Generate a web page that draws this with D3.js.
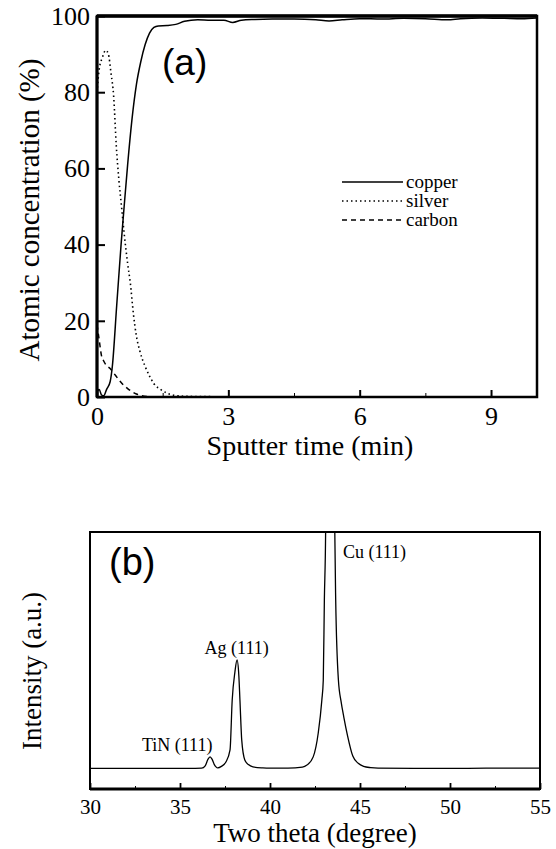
<!DOCTYPE html>
<html>
<head>
<meta charset="utf-8">
<script src="https://cdn.jsdelivr.net/npm/d3@7"></script>
<style>
  body { margin: 0; background: #fff; }
  svg { display: block; }
  svg text { font-family: "Liberation Serif", "Times New Roman", serif; }
  svg text.tag { font-family: "Liberation Sans", Arial, sans-serif; }
</style>
</head>
<body>
<div id="chart"></div>
<script>
// (a) depth profile: [sputter time (min), atomic concentration (%)]
const copper = [
  [0, 1.5], [0.05, 2], [0.1, 0.6], [0.15, 0.3], [0.22, 2], [0.3, 4], [0.35, 8],
  [0.45, 24], [0.55, 40], [0.62, 50], [0.7, 61], [0.8, 73], [0.9, 82], [1.0, 88],
  [1.1, 92.5], [1.2, 95.5], [1.3, 97], [1.4, 97.4], [1.6, 97.5], [1.8, 97.8],
  [2.0, 98.6], [2.3, 99.0], [2.6, 98.9], [2.9, 98.9], [3.1, 98.3], [3.3, 98.9],
  [3.6, 99.1], [4.0, 99.2], [4.5, 99.2], [5.0, 99.0], [5.3, 98.7], [5.6, 99.0],
  [6.0, 99.3], [6.5, 99.2], [7.0, 99.4], [7.5, 99.3], [8.0, 99.0], [8.3, 99.3],
  [8.8, 99.5], [9.3, 99.4], [9.7, 99.3], [10.05, 99.5]
];
const silver = [
  [0, 80], [0.05, 86], [0.12, 89], [0.2, 91], [0.26, 90], [0.32, 85], [0.38, 79],
  [0.44, 66], [0.5, 57], [0.56, 50], [0.62, 43], [0.7, 35], [0.76, 30], [0.83, 22],
  [0.9, 16], [0.98, 12], [1.1, 8], [1.2, 5.5], [1.3, 3.5], [1.45, 2], [1.6, 1],
  [1.8, 0.4], [2.0, 0.2], [2.5, 0.1], [3.5, 0], [10.05, 0]
];
const carbon = [
  [0, 19], [0.05, 15], [0.1, 11], [0.15, 9.5], [0.2, 8.5], [0.3, 7.5], [0.4, 6],
  [0.5, 4.5], [0.6, 3.2], [0.7, 2.2], [0.8, 1.4], [0.9, 0.8], [1.0, 0.4],
  [1.2, 0.1], [1.5, 0], [10.05, 0]
];
const legendNames = ['copper', 'silver', 'carbon'];
const timeTicks = [0, 3, 6, 9];
const timeMinorTicks = [1.5, 4.5, 7.5];
const concTicks = [0, 20, 40, 60, 80, 100];

// (b) XRD pattern: [two theta (deg), intensity (a.u.)]
const xrd = [
  [30, 80], [32, 80], [34, 80], [35.5, 80], [36.2, 81], [36.4, 90], [36.55, 115],
  [36.67, 125], [36.78, 116], [36.9, 96], [37.0, 86], [37.1, 82], [37.3, 88],
  [37.55, 105], [37.78, 152], [37.9, 346], [38.05, 455], [38.17, 502], [38.27, 440],
  [38.33, 346], [38.43, 190], [38.6, 113], [38.8, 95], [39.05, 86], [39.6, 82],
  [40, 81], [41, 81], [41.8, 85], [42.05, 93], [42.4, 125], [42.68, 218],
  [42.88, 346], [42.96, 424], [43.02, 735], [43.09, 1000], [43.2, 2500], [43.35, 3000],
  [43.5, 2500], [43.6, 1000], [43.65, 735], [43.8, 424], [43.95, 340], [44.1, 280],
  [44.3, 210], [44.6, 128], [44.9, 100], [45.2, 88], [45.6, 83], [46, 81],
  [48, 80], [50, 80], [52, 81], [55, 81]
];
const thetaTicks = [30, 35, 40, 45, 50, 55];
const thetaMinorTicks = [32.5, 37.5, 42.5, 47.5, 52.5];
const peakLabels = [
  { name: 'TiN (111)', at: 36.8, level: 148, anchor: 'end' },
  { name: 'Ag (111)', at: 38.15, level: 525, anchor: 'middle' },
  { name: 'Cu (111)', at: 44.05, level: 899, anchor: 'start' }
];

const width = 556, height = 849;

const svg = d3.select('#chart').append('svg')
  .attr('width', width)
  .attr('height', height);

svg.append('rect').attr('width', width).attr('height', height).attr('fill', '#fff');

// ---------- panel (a) ----------
const a = { left: 97, right: 537, top: 16, bottom: 397 };
const xA = d3.scaleLinear().domain([0, 10.05]).range([a.left, a.right]);
const yA = d3.scaleLinear().domain([0, 100]).range([a.bottom, a.top]);

svg.append('clipPath').attr('id', 'clipA')
  .append('rect')
  .attr('x', a.left).attr('y', a.top - 2)
  .attr('width', a.right - a.left).attr('height', a.bottom - a.top + 2);

const lineA = d3.line()
  .x(d => xA(d[0]))
  .y(d => yA(d[1]))
  .curve(d3.curveMonotoneX);

const seriesA = [
  { data: copper, dash: null, width: 1.5 },
  { data: silver, dash: '1.5,3', width: 1.6 },
  { data: carbon, dash: '5,4', width: 1.5 }
];

svg.append('g')
  .attr('clip-path', 'url(#clipA)')
  .selectAll('path')
  .data(seriesA)
  .join('path')
  .attr('fill', 'none')
  .attr('stroke', '#000')
  .attr('stroke-width', d => d.width)
  .attr('stroke-dasharray', d => d.dash)
  .attr('d', d => lineA(d.data));

// axes (ticks pointing inward)
const xAxisA = svg.append('g')
  .attr('transform', `translate(0,${a.bottom})`)
  .call(d3.axisBottom(xA).tickValues(timeTicks).tickSize(-7).tickPadding(10).tickSizeOuter(0));
svg.append('g')
  .attr('transform', `translate(0,${a.bottom})`)
  .call(d3.axisBottom(xA).tickValues(timeMinorTicks).tickSize(-4).tickFormat('').tickSizeOuter(0))
  .call(g => g.select('.domain').remove());
const yAxisA = svg.append('g')
  .attr('transform', `translate(${a.left},0)`)
  .call(d3.axisLeft(yA).tickValues(concTicks).tickSize(-8).tickPadding(7).tickSizeOuter(0));

[xAxisA, yAxisA].forEach(g => {
  g.attr('font-family', null);
  g.selectAll('text').attr('font-size', 26).attr('fill', '#000');
  g.selectAll('line').attr('stroke-width', 2);
  g.select('.domain').remove();
});

// frame
svg.append('rect')
  .attr('x', a.left).attr('y', a.top)
  .attr('width', a.right - a.left).attr('height', a.bottom - a.top)
  .attr('fill', 'none').attr('stroke', '#000').attr('stroke-width', 2.5);
svg.append('line')
  .attr('x1', a.left).attr('x2', a.right).attr('y1', a.top).attr('y2', a.top)
  .attr('stroke', '#000').attr('stroke-width', 3.5);
svg.append('line')
  .attr('x1', a.left).attr('x2', a.left).attr('y1', a.top).attr('y2', a.bottom)
  .attr('stroke', '#000').attr('stroke-width', 3);

// titles
svg.append('text')
  .attr('x', 310).attr('y', 455)
  .attr('text-anchor', 'middle')
  .attr('font-size', 28)
  .text('Sputter time (min)');
svg.append('text')
  .attr('transform', `translate(39,210) rotate(-90)`)
  .attr('text-anchor', 'middle')
  .attr('font-size', 29)
  .text('Atomic concentration (%)');
svg.append('text')
  .attr('class', 'tag')
  .attr('x', 162).attr('y', 75)
  .attr('font-size', 37)
  .text('(a)');

// legend
const legend = svg.append('g')
  .selectAll('g')
  .data(seriesA)
  .join('g')
  .attr('transform', (d, i) => `translate(342,${182 + i * 19})`);
legend.append('line')
  .attr('x1', 0).attr('x2', 61).attr('y1', 0).attr('y2', 0)
  .attr('stroke', '#000')
  .attr('stroke-width', d => d.width)
  .attr('stroke-dasharray', d => d.dash);
legend.append('text')
  .attr('x', 64).attr('y', 0).attr('dy', '0.3em')
  .attr('font-size', 19)
  .text((d, i) => legendNames[i]);

// ---------- panel (b) ----------
const b = { left: 90, right: 540, top: 532, bottom: 789 };
const xB = d3.scaleLinear().domain([30, 55]).range([b.left, b.right]);
const yB = d3.scaleLinear().domain([0, 1000]).range([b.bottom, b.top]);

svg.append('clipPath').attr('id', 'clipB')
  .append('rect')
  .attr('x', b.left).attr('y', b.top)
  .attr('width', b.right - b.left).attr('height', b.bottom - b.top);

svg.append('path')
  .datum(xrd)
  .attr('clip-path', 'url(#clipB)')
  .attr('fill', 'none')
  .attr('stroke', '#000')
  .attr('stroke-width', 1.3)
  .attr('d', d3.line()
    .x(d => xB(d[0]))
    .y(d => yB(d[1]))
    .curve(d3.curveMonotoneX));

const xAxisB = svg.append('g')
  .attr('transform', `translate(0,${b.bottom})`)
  .call(d3.axisBottom(xB).tickValues(thetaTicks).tickSize(-6).tickPadding(10).tickSizeOuter(0));
svg.append('g')
  .attr('transform', `translate(0,${b.bottom})`)
  .call(d3.axisBottom(xB).tickValues(thetaMinorTicks).tickSize(-3).tickFormat('').tickSizeOuter(0))
  .call(g => g.select('.domain').remove());
xAxisB.attr('font-family', null);
xAxisB.selectAll('text').attr('font-size', 21).attr('fill', '#000');
xAxisB.selectAll('line').attr('stroke-width', 1.8);
xAxisB.select('.domain').remove();

svg.append('rect')
  .attr('x', b.left).attr('y', b.top)
  .attr('width', b.right - b.left).attr('height', b.bottom - b.top)
  .attr('fill', 'none').attr('stroke', '#000').attr('stroke-width', 2);
svg.append('line')
  .attr('x1', b.left).attr('x2', b.right).attr('y1', b.bottom).attr('y2', b.bottom)
  .attr('stroke', '#000').attr('stroke-width', 3);

svg.append('g')
  .selectAll('text')
  .data(peakLabels)
  .join('text')
  .attr('x', d => xB(d.at))
  .attr('y', d => yB(d.level))
  .attr('text-anchor', d => d.anchor)
  .attr('font-size', 18)
  .text(d => d.name);

svg.append('text')
  .attr('x', 315).attr('y', 842)
  .attr('text-anchor', 'middle')
  .attr('font-size', 27)
  .text('Two theta (degree)');
svg.append('text')
  .attr('transform', `translate(41,671) rotate(-90)`)
  .attr('text-anchor', 'middle')
  .attr('font-size', 27)
  .text('Intensity (a.u.)');
svg.append('text')
  .attr('class', 'tag')
  .attr('x', 109).attr('y', 575)
  .attr('font-size', 38)
  .text('(b)');
</script>
</body>
</html>
